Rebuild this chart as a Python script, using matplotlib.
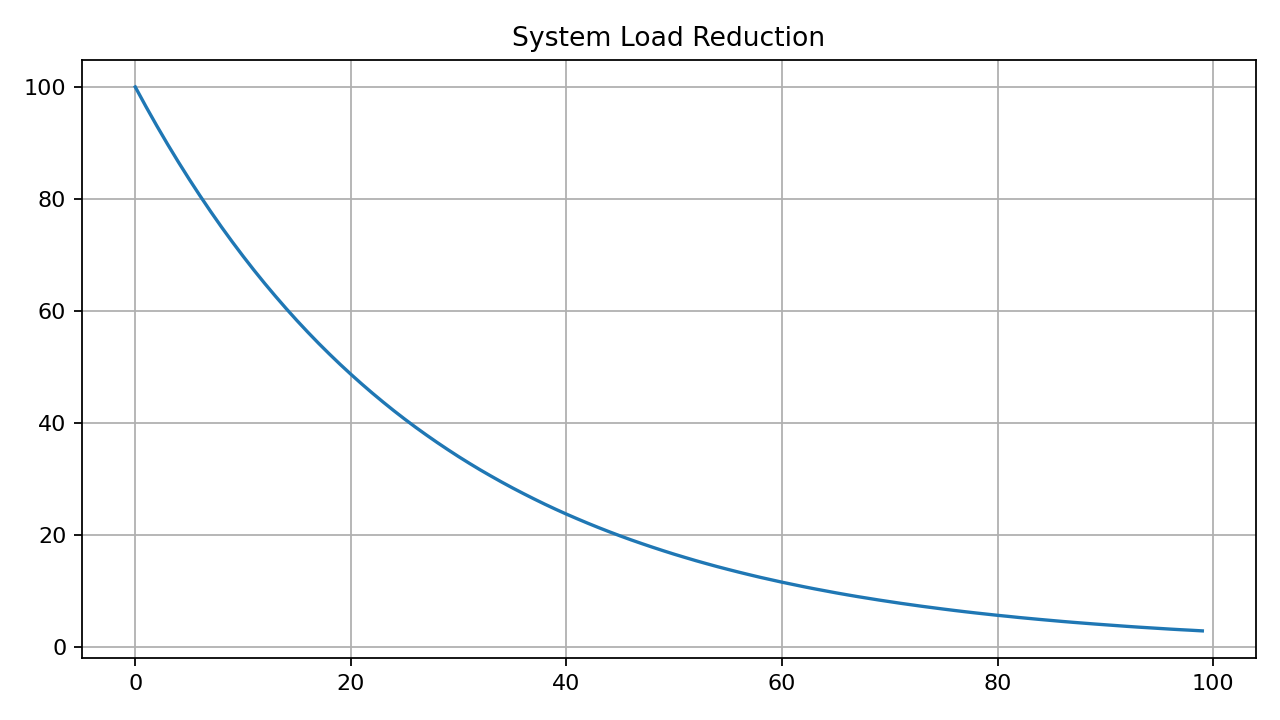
import matplotlib
matplotlib.use("Agg")
import matplotlib.pyplot as plt

# Load values, one per step
steps = list(range(100))
load = [
    100.0, 96.46, 93.05, 89.76, 86.59, 83.53, 80.58, 77.73, 74.98, 72.33,
    69.77, 67.30, 64.92, 62.63, 60.41, 58.27, 56.21, 54.22, 52.31, 50.46,
    48.68, 46.96, 45.30, 43.70, 42.15, 40.66, 39.22, 37.84, 36.50, 35.21,
    33.96, 32.76, 31.60, 30.49, 29.41, 28.37, 27.37, 26.40, 25.46, 24.56,
    23.69, 22.86, 22.05, 21.27, 20.52, 19.79, 19.09, 18.42, 17.77, 17.14,
    16.53, 15.95, 15.38, 14.84, 14.31, 13.81, 13.32, 12.85, 12.39, 11.96,
    11.53, 11.13, 10.73, 10.35, 9.99, 9.63, 9.29, 8.96, 8.65, 8.34,
    8.05, 7.76, 7.49, 7.22, 6.97, 6.72, 6.48, 6.25, 6.03, 5.82,
    5.61, 5.42, 5.22, 5.04, 4.86, 4.69, 4.52, 4.36, 4.21, 4.06,
    3.92, 3.78, 3.64, 3.51, 3.39, 3.27, 3.15, 3.04, 2.94, 2.83,
]

fig, ax = plt.subplots(figsize=(8, 4.5), dpi=160)
ax.plot(steps, load)
ax.set_title("System Load Reduction")
ax.grid(True)

fig.subplots_adjust(left=0.064, right=0.981, top=0.917, bottom=0.086)
plt.savefig("out.png")
